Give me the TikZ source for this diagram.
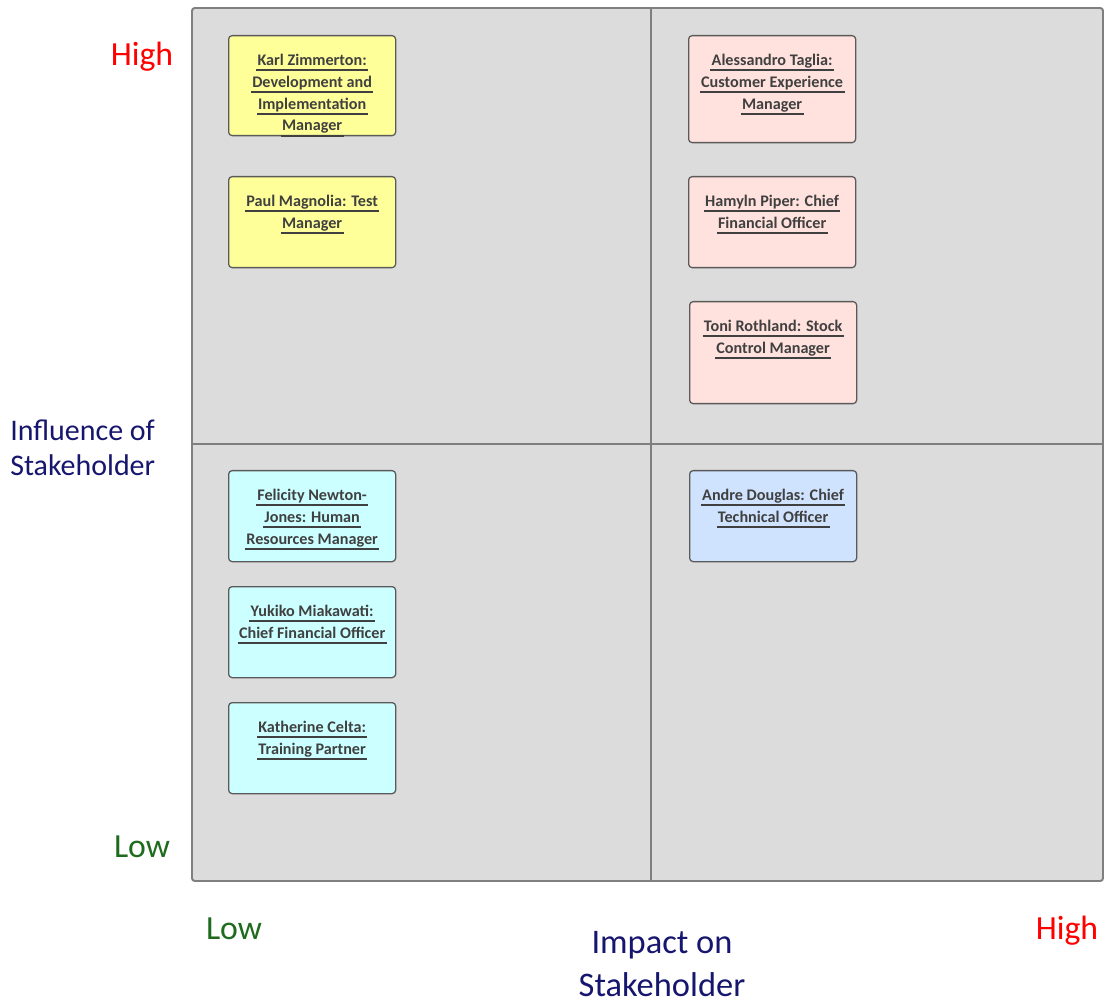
\documentclass[tikz,border=0pt]{standalone}
\usepackage{fontspec}
\setmainfont{Carlito}
\usepackage{xcolor}
\usepackage{tikz}
\usetikzlibrary{positioning, calc}

\definecolor{boardgray}{HTML}{DCDCDC}
\definecolor{boardline}{HTML}{7F7F7F}
\definecolor{cardline}{HTML}{5A5A5A}
\definecolor{cardtext}{HTML}{404040}
\definecolor{cardyellow}{HTML}{FFFF99}
\definecolor{cardpink}{HTML}{FFE1DD}
\definecolor{cardcyan}{HTML}{CCFFFF}
\definecolor{cardblue}{HTML}{CFE3FF}
\definecolor{highred}{HTML}{FF0000}
\definecolor{lowgreen}{HTML}{1E6B1E}
\definecolor{axisnavy}{HTML}{16166E}

\newcommand{\stkline}[1]{\setbox0=\hbox{#1}\rlap{\kern-1pt\raisebox{-4.2pt}{\rule{\dimexpr\wd0+2pt\relax}{1.3pt}}}\box0}

\tikzset{
    card/.style={draw=cardline, line width=0.9pt, rounded corners=2.5pt, minimum width=167*0.025cm, inner sep=0pt},
    cardlabel/.style={text=cardtext, align=center, inner sep=0pt, yshift=-13.2pt,
        font=\bfseries\fontsize{11.5}{15.6}\selectfont},
    level/.style={font=\fontsize{24}{28}\selectfont, inner sep=0pt},
    axis/.style={text=axisnavy, font=\fontsize{21.3}{25.5}\selectfont, inner sep=0pt},
    bigaxis/.style={axis, font=\fontsize{24.5}{30}\selectfont}
}

\begin{document}
\begin{tikzpicture}[x=0.025cm, y=-0.025cm]
    \useasboundingbox (0,0) rectangle (1104,1003);

    \draw[boardline, line width=1.4pt, fill=boardgray, rounded corners=2pt] (192,8) rectangle (1103,881);
    \draw[boardline, line width=1pt] (651,8) -- (651,881);
    \draw[boardline, line width=1pt] (192,444) -- (1103,444);

    \foreach \n/\x/\y/\h/\c/\t in {
        karl/228/35/100/cardyellow/{\stkline{Karl Zimmerton:}\\\stkline{Development and}\\\stkline{Implementation}\\\stkline{Manager}},
        paul/228/176/91/cardyellow/{\stkline{Paul Magnolia: Test}\\\stkline{Manager}},
        alessandro/688/35/107/cardpink/{\stkline{Alessandro Taglia:}\\\stkline{Customer Experience}\\\stkline{Manager}},
        hamyln/688/176/91/cardpink/{\stkline{Hamyln Piper: Chief}\\\stkline{Financial Officer}},
        toni/689/301/102/cardpink/{\stkline{Toni Rothland: Stock}\\\stkline{Control Manager}},
        felicity/228/470/91/cardcyan/{\stkline{Felicity Newton-}\\\stkline{Jones: Human}\\\stkline{Resources Manager}},
        yukiko/228/586/91/cardcyan/{\stkline{Yukiko Miakawati:}\\\stkline{Chief Financial Officer}},
        katherine/228/702/91/cardcyan/{\stkline{Katherine Celta:}\\\stkline{Training Partner}},
        andre/689/470/91/cardblue/{\stkline{Andre Douglas: Chief}\\\stkline{Technical Officer}}} {
        \node[card, fill=\c, minimum height=\h*0.025cm, anchor=north west] (\n) at (\x,\y) {};
        \node[cardlabel, anchor=north] (\n-text) at (\n.north) {\t};
    }

    \node[level, text=highred, anchor=base] (yhigh) at (142,66) {High};
    \node[level, text=lowgreen, anchor=base] (ylow) at (142,857) {Low};
    \node[axis, align=left, anchor=base west] (yaxis) at (10,476) {Influence of\\Stakeholder};

    \node[level, text=lowgreen, anchor=base] (xlow) at (234,939) {Low};
    \node[level, text=highred, anchor=base] (xhigh) at (1067,939) {High};
    \node[bigaxis, align=center, anchor=base] (xaxis) at (662,996) {Impact on\\Stakeholder};
\end{tikzpicture}
\end{document}
